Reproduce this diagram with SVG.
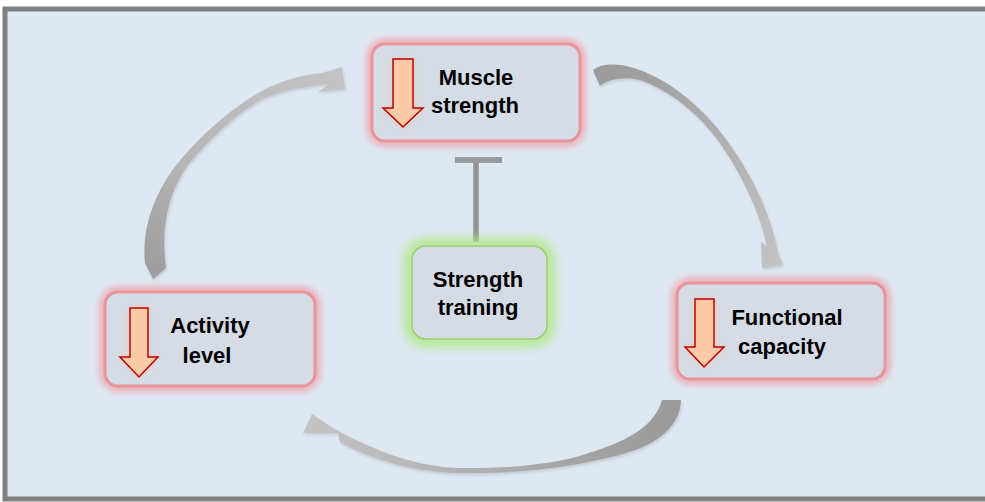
<svg xmlns="http://www.w3.org/2000/svg" width="985" height="502" viewBox="0 0 985 502">
<defs>
  <style>
    .box { fill: #D6DCE5; stroke: #E8949A; stroke-width: 3; }
    .glow { fill: none; stroke: #F0A0A6; stroke-width: 12; opacity: 0.75; }
    .gbox { fill: #D6DCE5; stroke: #9BD068; stroke-width: 1.5; }
    .gglow { fill: none; stroke: #B0E888; stroke-width: 18; opacity: 0.8; }
    .lbl { font-family: "Liberation Sans", Arial, sans-serif; font-weight: bold; font-size: 22px; fill: #000; text-anchor: middle; }
    .down { fill: #FBCBA7; stroke: #C00000; stroke-width: 1.5; stroke-linejoin: miter; }
    .sh { fill: #AEB4BC; opacity: 0.55; }
  </style>
  <filter id="blur" x="-20%" y="-20%" width="140%" height="140%"><feGaussianBlur stdDeviation="3"/></filter>
  <filter id="blur2" x="-30%" y="-30%" width="160%" height="160%"><feGaussianBlur stdDeviation="5"/></filter>
  <filter id="shadow" x="-20%" y="-20%" width="140%" height="140%"><feGaussianBlur stdDeviation="1.5"/></filter>
  <linearGradient id="g1" x1="0" y1="1" x2="1" y2="0">
    <stop offset="0" stop-color="#9A9A9A"/>
    <stop offset="0.35" stop-color="#B5B5B5"/>
    <stop offset="1" stop-color="#C4C4C4"/>
  </linearGradient>
  <linearGradient id="g2" x1="0" y1="0" x2="1" y2="1">
    <stop offset="0" stop-color="#999999"/>
    <stop offset="0.35" stop-color="#A8A8A8"/>
    <stop offset="1" stop-color="#C4C4C4"/>
  </linearGradient>
  <linearGradient id="g3" x1="1" y1="0" x2="0" y2="0">
    <stop offset="0" stop-color="#999999"/>
    <stop offset="0.4" stop-color="#AAAAAA"/>
    <stop offset="1" stop-color="#C4C4C4"/>
  </linearGradient>
  <linearGradient id="gt" x1="0" y1="0" x2="1" y2="0">
    <stop offset="0" stop-color="#A6A6A6"/>
    <stop offset="0.5" stop-color="#8C8C8C"/>
    <stop offset="1" stop-color="#A6A6A6"/>
  </linearGradient>
  <path id="a1" d="M153,279 L145,263 C141,225 158,185 183,157 C205,132 232,108 260,92 C280,81 300,75 322,73 L342,67 L345,89 L318,92 L329,84 C305,86 283,90 264,98 C236,113 212,137 190,162 C170,188 160,225 166,268 Z"/>
  <path id="a2" d="M593,70 C602,63 618,63 637,69 C670,80 703,108 725,138 C750,172 770,210 778,253 L783,265 L762,268 L761,241 L767,247 C760,212 742,175 720,143 C700,115 670,90 640,80 C625,76 608,79 600,86 Z"/>
  <path id="a3" d="M662,400 L681,400 C680,428 655,448 607,458 C570,467 520,474 457,473 C420,472 375,462 340,442 L338,433 L303,433 L312,414 L331,427 C365,446 410,466 457,468 C520,469 565,462 592,452 C630,440 655,425 662,400 Z"/>
</defs>

<rect x="0" y="0" width="985" height="502" fill="#FFFFFF"/>
<rect x="5" y="9" width="1000" height="490" fill="#DEE8F3" stroke="#808080" stroke-width="5"/>

<g id="connectors">
  <g>
    <use href="#a1" class="sh" filter="url(#shadow)" transform="translate(1,2)"/>
    <use href="#a1" fill="url(#g1)"/>
  </g>
  <g>
    <use href="#a2" class="sh" filter="url(#shadow)" transform="translate(1,2)"/>
    <use href="#a2" fill="url(#g2)"/>
  </g>
  <g>
    <use href="#a3" class="sh" filter="url(#shadow)" transform="translate(1,2)"/>
    <use href="#a3" fill="url(#g3)"/>
  </g>
  <g>
    <rect x="473" y="160" width="6" height="82" fill="url(#gt)"/>
    <rect x="455" y="157" width="47" height="6" fill="#9A9A9A"/>
  </g>
</g>

<g id="muscle">
  <rect class="glow" x="372" y="44" width="208" height="97" rx="14" filter="url(#blur)"/>
  <rect class="box" x="372" y="44" width="208" height="97" rx="13"/>
  <polygon points="393,59 413,59 413,108 423,108 403,127 383,108 393,108" fill="#F8B888" opacity="0.6" filter="url(#blur)"/>
  <polygon class="down" points="393,59 413,59 413,108 423,108 403,127 383,108 393,108"/>
  <text class="lbl" x="476" y="85">Muscle</text>
  <text class="lbl" x="475" y="113">strength</text>
</g>

<g id="activity">
  <rect class="glow" x="105" y="292" width="210" height="94" rx="14" filter="url(#blur)"/>
  <rect class="box" x="105" y="292" width="210" height="94" rx="13"/>
  <polygon points="130,308 148,308 148,357 158,357 139,377 120,357 130,357" fill="#F8B888" opacity="0.6" filter="url(#blur)"/>
  <polygon class="down" points="130,308 148,308 148,357 158,357 139,377 120,357 130,357"/>
  <text class="lbl" x="210" y="333">Activity</text>
  <text class="lbl" x="207" y="363">level</text>
</g>

<g id="functional">
  <rect class="glow" x="677" y="283" width="208" height="96" rx="14" filter="url(#blur)"/>
  <rect class="box" x="677" y="283" width="208" height="96" rx="13"/>
  <polygon points="695,299 714,299 714,347 724,347 704,367 685,347 695,347" fill="#F8B888" opacity="0.6" filter="url(#blur)"/>
  <polygon class="down" points="695,299 714,299 714,347 724,347 704,367 685,347 695,347"/>
  <text class="lbl" x="787" y="325">Functional</text>
  <text class="lbl" x="782" y="354">capacity</text>
</g>

<g id="training">
  <rect class="gglow" x="412" y="246" width="135" height="93" rx="14" filter="url(#blur2)"/>
  <rect class="gbox" x="412" y="246" width="135" height="93" rx="14"/>
  <text class="lbl" x="478" y="287">Strength</text>
  <text class="lbl" x="478" y="315">training</text>
</g>
</svg>
